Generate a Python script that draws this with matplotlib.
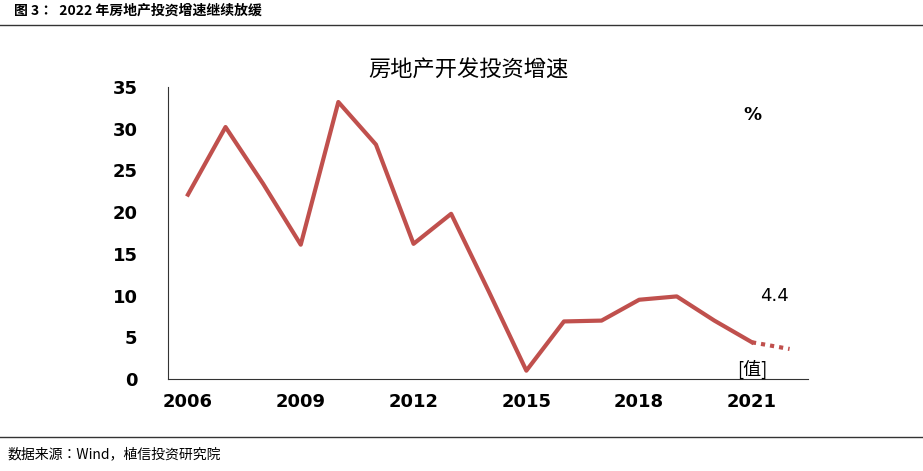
import matplotlib
matplotlib.use("Agg")
import matplotlib.pyplot as plt
from matplotlib import font_manager as fm

cjk = [f.name for f in fm.fontManager.ttflist if "CJK" in f.name or "Noto Sans SC" in f.name]
cjk_name = "Noto Sans CJK SC" if "Noto Sans CJK SC" in cjk else (cjk[0] if cjk else "DejaVu Sans")
plt.rcParams["font.family"] = [cjk_name, "DejaVu Sans"]
plt.rcParams["font.sans-serif"] = [cjk_name, "DejaVu Sans"]

years = list(range(2006, 2022))
growth = [22.1, 30.2, 23.4, 16.1, 33.2, 28.1, 16.2, 19.8, 10.5, 1.0, 6.9, 7.0, 9.5, 9.9, 7.0, 4.4]
proj_years = [2021, 2022]
proj_vals = [4.4, 3.6]
xticks = [2006, 2009, 2012, 2015, 2018, 2021]
yticks = [0, 5, 10, 15, 20, 25, 30, 35]

W, H = 923, 471
fig = plt.figure(figsize=(W / 100, H / 100), dpi=100)
ax = fig.add_axes([168 / W, 1 - 379 / H, (808 - 168) / W, (379 - 87) / H])
red = "#C0504D"
ax.plot(years, growth, color=red, lw=3)
ax.plot(proj_years, proj_vals, color=red, lw=3, ls=(0, (1, 1.2)))
ax.set_xlim(2005.47, 2022.49)
ax.set_ylim(0, 35)
ax.set_xticks(xticks)
ax.set_yticks(yticks)
ax.tick_params(length=0, labelsize=13, pad=10)
for lab in ax.get_xticklabels() + ax.get_yticklabels():
    lab.set_fontweight("bold")
    lab.set_fontfamily("DejaVu Sans")
ax.tick_params(axis="y", pad=22)
for s in ["top", "right"]:
    ax.spines[s].set_visible(False)
for s in ["left", "bottom"]:
    ax.spines[s].set_color("#333333")
ax.text(2021, 31.6, "%", fontsize=13, fontweight="bold", ha="center", va="center", family="DejaVu Sans")
ax.text(2021.6, 10.0, "4.4", fontsize=13, ha="center", va="center", family="DejaVu Sans")
ax.text(2021, 1.2, "[值]", fontsize=13, ha="center", va="center", family=cjk_name)

fig.text(468 / W, 1 - 70 / H, "房地产开发投资增速", fontsize=16, ha="center", va="center", family=cjk_name)
fig.text(14 / W, 1 - 11 / H, "图 3：  2022 年房地产投资增速继续放缓", fontsize=10, fontweight="bold", va="center", family=cjk_name)
fig.add_artist(plt.Line2D([0, 1], [1 - 25 / H, 1 - 25 / H], color="#333333", lw=1))
fig.add_artist(plt.Line2D([0, 1], [1 - 437 / H, 1 - 437 / H], color="#333333", lw=1))
fig.text(8 / W, 1 - 454 / H, "数据来源：Wind，植信投资研究院", fontsize=10, va="center", family=cjk_name)
fig.savefig("out.png", dpi=100)
